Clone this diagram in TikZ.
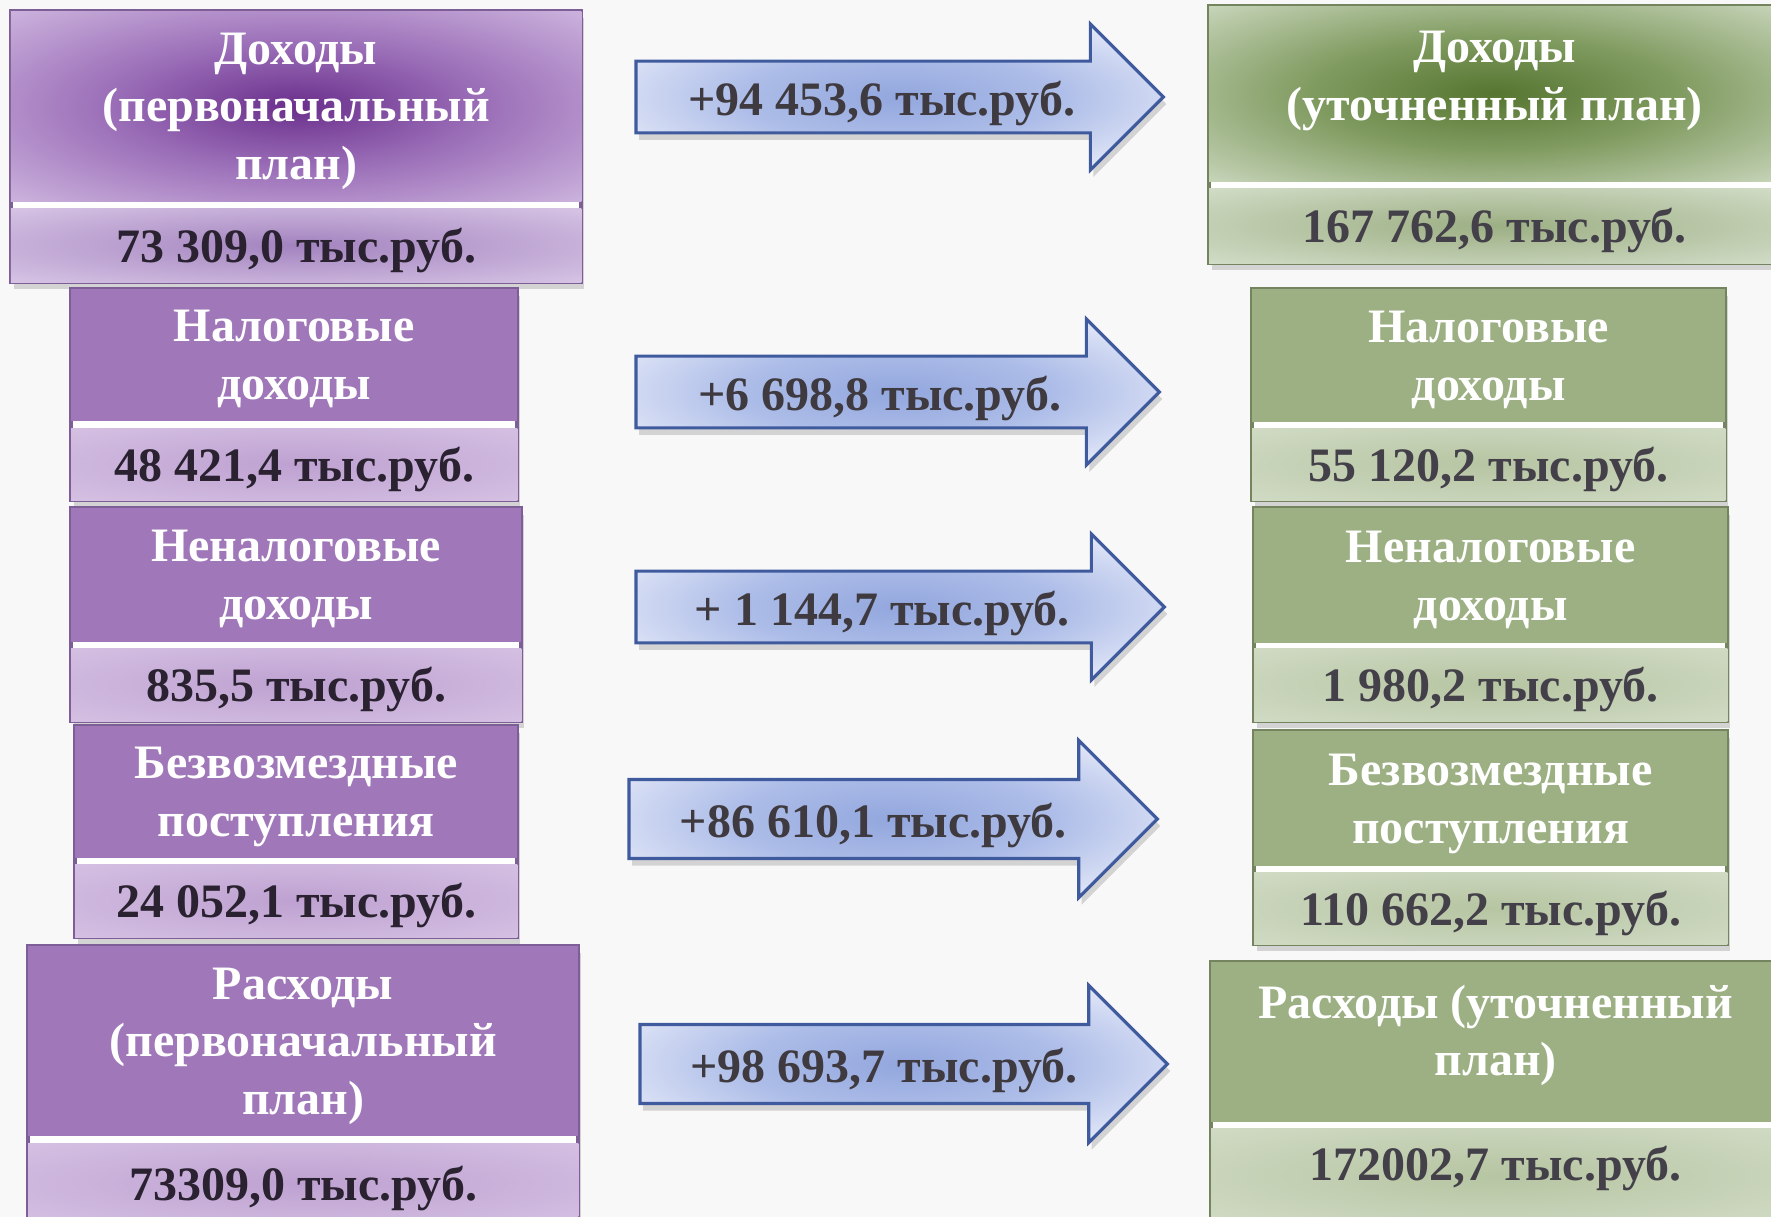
\documentclass[tikz,border=0pt]{standalone}
\usepackage{fontspec}
\setmainfont{Liberation Serif}
\usetikzlibrary{shapes.arrows, shadows, fit, backgrounds}

\definecolor{pageBg}{HTML}{F8F8F8}
\definecolor{purpleTitle}{HTML}{A078B9}
\definecolor{purpleDark}{HTML}{6A2F8C}
\definecolor{purpleMid}{HTML}{9A6DB7}
\definecolor{purpleLight}{HTML}{CDB5DE}
\definecolor{purpleValDark}{HTML}{A383BF}
\definecolor{purpleValLight}{HTML}{D7C5E5}
\definecolor{purpleSoftIn}{HTML}{BEA1D1}
\definecolor{purpleSoftOut}{HTML}{D5C1E3}
\definecolor{purpleLine}{HTML}{7E5E96}
\definecolor{purpleText}{HTML}{2A2230}
\definecolor{greenTitle}{HTML}{9CB083}
\definecolor{greenDark}{HTML}{557530}
\definecolor{greenMid}{HTML}{809B60}
\definecolor{greenLight}{HTML}{C9D6BC}
\definecolor{greenValDark}{HTML}{9CAF84}
\definecolor{greenValLight}{HTML}{D3DDC8}
\definecolor{greenSoftIn}{HTML}{B6C5A2}
\definecolor{greenSoftOut}{HTML}{D1DBC5}
\definecolor{greenLine}{HTML}{73845E}
\definecolor{greenText}{HTML}{444049}
\definecolor{arrowIn}{HTML}{93A7DE}
\definecolor{arrowMid}{HTML}{ADBDE8}
\definecolor{arrowOut}{HTML}{F0F2FC}
\definecolor{arrowLine}{HTML}{3F5B9E}
\definecolor{arrowText}{HTML}{3E3A40}

% gradients
\pgfdeclareradialshading{purpleglow}{\pgfpoint{0bp}{0bp}}{color(0bp)=(purpleDark); color(16bp)=(purpleMid); color(36bp)=(purpleLight); color(50bp)=(purpleLight!70!white)}
\pgfdeclareradialshading{purplevalglow}{\pgfpoint{0bp}{0bp}}{color(0bp)=(purpleValDark); color(36bp)=(purpleValLight); color(50bp)=(purpleValLight)}
\pgfdeclareradialshading{purplesoft}{\pgfpoint{0bp}{0bp}}{color(0bp)=(purpleSoftIn); color(36bp)=(purpleSoftOut); color(50bp)=(purpleSoftOut)}
\pgfdeclareradialshading{greenglow}{\pgfpoint{0bp}{0bp}}{color(0bp)=(greenDark); color(16bp)=(greenMid); color(36bp)=(greenLight); color(50bp)=(greenLight!70!white)}
\pgfdeclareradialshading{greenvalglow}{\pgfpoint{0bp}{0bp}}{color(0bp)=(greenValDark); color(36bp)=(greenValLight); color(50bp)=(greenValLight)}
\pgfdeclareradialshading{greensoft}{\pgfpoint{0bp}{0bp}}{color(0bp)=(greenSoftIn); color(36bp)=(greenSoftOut); color(50bp)=(greenSoftOut)}
\pgfdeclareradialshading{blueglow}{\pgfpoint{0bp}{0bp}}{color(0bp)=(arrowIn); color(15bp)=(arrowMid); color(34bp)=(arrowOut); color(50bp)=(arrowOut)}

\begin{document}
\begin{tikzpicture}[x=0.01cm, y=-0.01cm,
  every node/.style={inner sep=0pt, outer sep=0pt, font=\fontsize{13.65}{16.4}\selectfont\bfseries},
  ptitle/.style={rectangle, anchor=north west, fill=purpleTitle, text=white, align=center, text depth=0pt},
  pvalue/.style={rectangle, anchor=north west, shade, shading=purplesoft, text=purpleText,
    text height=11pt, text depth=1.2pt},
  gtitle/.style={rectangle, anchor=north west, fill=greenTitle, text=white, align=center, text depth=0pt},
  gvalue/.style={rectangle, anchor=north west, shade, shading=greensoft, text=greenText,
    text height=11pt, text depth=1.2pt},
  pframe/.style={rectangle, draw=purpleLine, line width=1.2pt, fill=white,
    drop shadow={opacity=0.3, shadow xshift=0.3mm, shadow yshift=-0.7mm}},
  gframe/.style={rectangle, draw=greenLine, line width=1.2pt, fill=white,
    drop shadow={opacity=0.3, shadow xshift=0.3mm, shadow yshift=-0.7mm}},
  deltaarrow/.style={single arrow, anchor=tail, draw=arrowLine, line width=0.9pt,
    shade, shading=blueglow, text=arrowText,
    single arrow head extend=0.37cm, text height=12.4pt, text depth=2pt, inner ysep=2.55pt,
    drop shadow={opacity=0.3, shadow xshift=0.3mm, shadow yshift=-0.7mm}}]

  \useasboundingbox (0,0) rectangle (1771,1217);

  % page background
  \begin{scope}[on background layer]
    \fill[pageBg] (0,0) rectangle (1771,1217);
  \end{scope}

  % Left column: first plan
  \node[ptitle, shade, shading=purpleglow, minimum width=5.70cm, minimum height=1.90cm]
    (incPlanT) at (11,11) {Доходы\\(первоначальный\\план)};
  \node[pvalue, shading=purplevalglow, minimum width=5.70cm, minimum height=0.74cm]
    (incPlanV) at (11,208) {73 309,0 тыс.руб.};

  \node[ptitle, minimum width=4.46cm, minimum height=1.32cm] (taxPlanT) at (71,289) {Налоговые\\доходы};
  \node[pvalue, minimum width=4.46cm, minimum height=0.72cm] (taxPlanV) at (71,428) {48 421,4 тыс.руб.};

  \node[ptitle, minimum width=4.50cm, minimum height=1.34cm] (nontaxPlanT) at (71,508) {Неналоговые\\доходы};
  \node[pvalue, minimum width=4.50cm, minimum height=0.73cm] (nontaxPlanV) at (71,648) {835,5 тыс.руб.};

  \node[ptitle, minimum width=4.42cm, minimum height=1.32cm] (freePlanT) at (75,726) {Безвозмездные\\поступления};
  \node[pvalue, minimum width=4.42cm, minimum height=0.73cm] (freePlanV) at (75,864) {24 052,1 тыс.руб.};

  \node[ptitle, minimum width=5.50cm, minimum height=1.90cm] (expPlanT) at (28,946) {Расходы\\(первоначальный\\план)};
  \node[pvalue, minimum width=5.50cm, minimum height=0.80cm] (expPlanV) at (28,1143) {73309,0 тыс.руб.};

  % Right column: revised plan
  \node[gtitle, shade, shading=greenglow, minimum width=5.71cm, minimum height=1.75cm,
    text depth=0.35cm] (incRevT) at (1209,6) {Доходы\\(уточненный план)};
  \node[gvalue, shading=greenvalglow, minimum width=5.71cm, minimum height=0.75cm]
    (incRevV) at (1209,188) {167 762,6 тыс.руб.};

  \node[gtitle, minimum width=4.73cm, minimum height=1.33cm] (taxRevT) at (1252,289) {Налоговые\\доходы};
  \node[gvalue, minimum width=4.73cm, minimum height=0.72cm] (taxRevV) at (1252,428) {55 120,2 тыс.руб.};

  \node[gtitle, minimum width=4.73cm, minimum height=1.35cm] (nontaxRevT) at (1254,508) {Неналоговые\\доходы};
  \node[gvalue, minimum width=4.73cm, minimum height=0.73cm] (nontaxRevV) at (1254,648) {1 980,2 тыс.руб.};

  \node[gtitle, minimum width=4.73cm, minimum height=1.35cm] (freeRevT) at (1254,731) {Безвозмездные\\поступления};
  \node[gvalue, minimum width=4.73cm, minimum height=0.72cm] (freeRevV) at (1254,872) {110 662,2 тыс.руб.};

  \node[gtitle, minimum width=5.69cm, minimum height=1.60cm, text depth=6.7pt] (expRevT) at (1211,962) {Расходы (уточненный\\план)};
  \node[gvalue, minimum width=5.69cm, minimum height=0.95cm, text depth=8.2pt] (expRevV) at (1211,1128) {172002,7 тыс.руб.};

  % frames with white separator
  \begin{scope}[on background layer]
    \node[pframe, fit=(incPlanT)(incPlanV)] (incPlan) {};
    \node[pframe, fit=(taxPlanT)(taxPlanV)] (taxPlan) {};
    \node[pframe, fit=(nontaxPlanT)(nontaxPlanV)] (nontaxPlan) {};
    \node[pframe, fit=(freePlanT)(freePlanV)] (freePlan) {};
    \node[pframe, fit=(expPlanT)(expPlanV)] (expPlan) {};
    \node[gframe, fit=(incRevT)(incRevV)] (incRev) {};
    \node[gframe, fit=(taxRevT)(taxRevV)] (taxRev) {};
    \node[gframe, fit=(nontaxRevT)(nontaxRevV)] (nontaxRev) {};
    \node[gframe, fit=(freeRevT)(freeRevV)] (freeRev) {};
    \node[gframe, fit=(expRevT)(expRevV)] (expRev) {};
  \end{scope}

  % Change arrows
  \node[deltaarrow, minimum height=5.27cm] (incDelta) at (636,97) {+94 453,6 тыс.руб.};
  \node[deltaarrow, minimum height=5.23cm] (taxDelta) at (636,392) {+6 698,8 тыс.руб.};
  \node[deltaarrow, minimum height=5.28cm] (nontaxDelta) at (636,607) {+ 1 144,7 тыс.руб.};
  \node[deltaarrow, minimum height=5.28cm, inner ysep=3.6pt, single arrow head extend=0.39cm]
    (freeDelta) at (629,819) {+86 610,1 тыс.руб.};
  \node[deltaarrow, minimum height=5.27cm, inner ysep=3.6pt, single arrow head extend=0.39cm]
    (expDelta) at (640,1064) {+98 693,7 тыс.руб.};

\end{tikzpicture}
\end{document}
